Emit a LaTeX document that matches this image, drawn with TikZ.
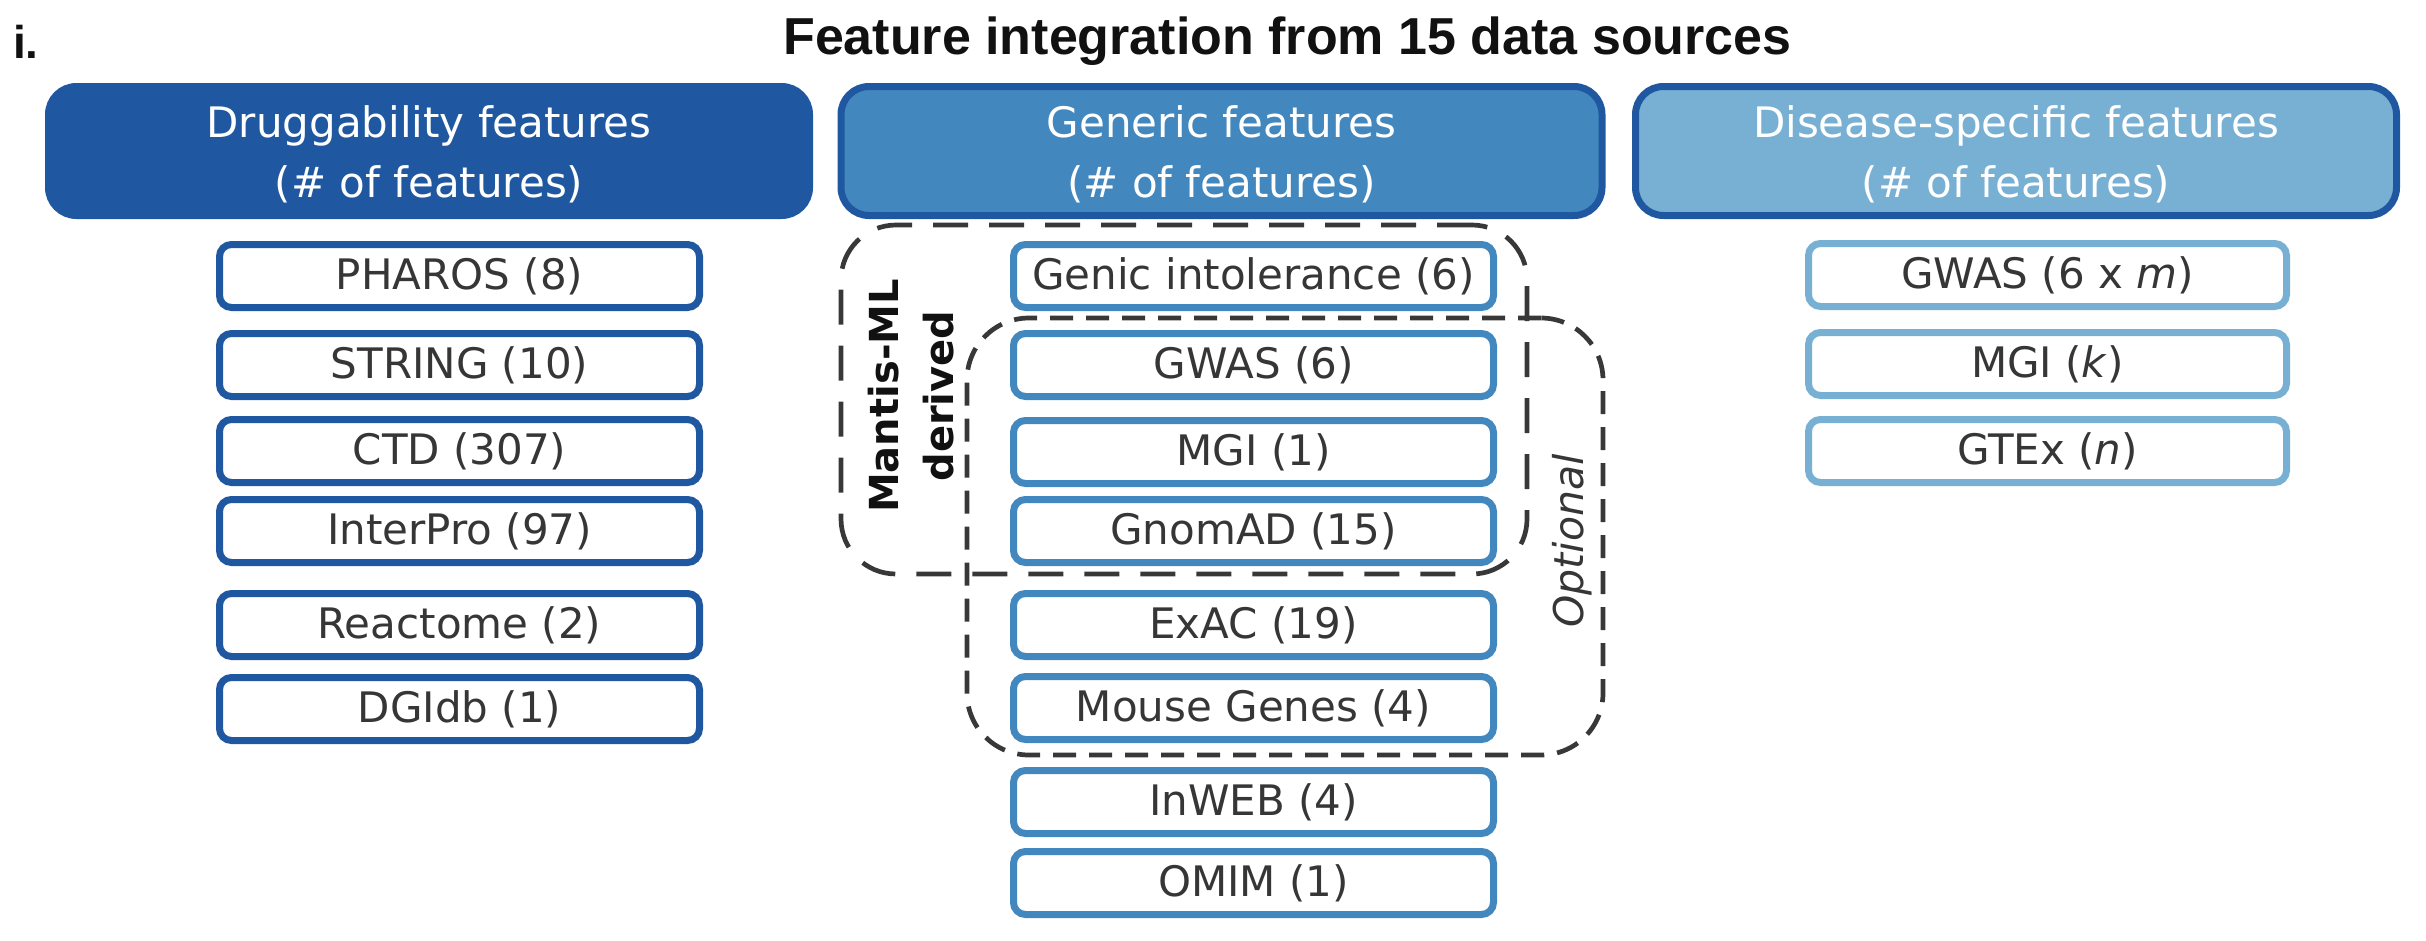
\documentclass[tikz,border=0pt]{standalone}
\usepackage{fontspec}
\setmainfont{DejaVu Sans}
\newfontfamily\titlefont{Liberation Sans}
\definecolor{drk}{RGB}{31,88,160}
\definecolor{med}{RGB}{66,135,190}
\definecolor{lgt}{RGB}{120,176,212}
\definecolor{txt}{RGB}{54,54,54}
\definecolor{dsh}{RGB}{56,56,56}
\definecolor{ttl}{RGB}{17,17,17}
\begin{document}
\begin{tikzpicture}[x=1pt,y=-1pt,
  hdr/.style={rounded corners=28pt, line width=7pt, draw=drk, minimum width=761pt,
    minimum height=129pt, inner sep=0pt},
  htxt/.style={text=white, align=center, inner sep=0pt, font=\fontsize{42}{60}\selectfont},
  item/.style={rounded corners=12pt, line width=7pt, fill=white, minimum width=480pt,
    minimum height=63pt, text=txt, inner sep=0pt, font=\fontsize{42}{50}\selectfont},
  litem/.style={item, draw=drk},
  mitem/.style={item, draw=med},
  ritem/.style={item, draw=lgt, minimum width=478pt},
  dashbox/.style={draw=dsh, line width=4.7pt, inner sep=0pt}
]
\useasboundingbox (0,0) rectangle (2426,940);

% title
\node[anchor=base west, inner sep=0pt, text=ttl, font=\titlefont\bfseries\fontsize{46}{50}\selectfont] (lab) at (13,58) {i.};
\node[anchor=base, inner sep=0pt, text=ttl, font=\titlefont\bfseries\fontsize{52}{60}\selectfont] (title) at (1287.5,54) {Feature integration from 15 data sources};

% headers
\node[hdr, fill=drk] (hdrug) at (429,151) {};
\node[hdr, fill=med] (hgen) at (1221.5,151) {};
\node[hdr, fill=lgt] (hdis) at (2016,151) {};
\node[htxt] (hdrugtxt) at ([yshift=-3pt]hdrug.center) {Druggability features\\(\# of features)};
\node[htxt] (hgentxt) at ([yshift=-3pt]hgen.center) {Generic features\\(\# of features)};
\node[htxt] (hdistxt) at ([yshift=-3pt]hdis.center) {Disease-specific features\\(\# of features)};

% left column
\node[litem] (pharos) at (459.5,276) {PHAROS (8)};
\node[litem] (string) at (459.5,365) {STRING (10)};
\node[litem] (ctd) at (459.5,451) {CTD (307)};
\node[litem] (interpro) at (459.5,531) {InterPro (97)};
\node[litem] (reactome) at (459.5,625) {Reactome (2)};
\node[litem] (dgidb) at (459.5,709) {DGIdb (1)};

% middle column
\node[mitem] (genic) at (1253.5,276) {Genic intolerance (6)};
\node[mitem] (gwas) at (1253.5,365) {GWAS (6)};
\node[mitem] (mgi) at (1253.5,452) {MGI (1)};
\node[mitem] (gnomad) at (1253.5,531) {GnomAD (15)};
\node[mitem] (exac) at (1253.5,625) {ExAC (19)};
\node[mitem] (mouse) at (1253.5,708) {Mouse Genes (4)};
\node[mitem] (inweb) at (1253.5,802) {InWEB (4)};
\node[mitem] (omim) at (1253.5,883) {OMIM (1)};

% right column
\node[ritem] (dgwas) at (2047.5,275) {GWAS (6 x \textit{m})};
\node[ritem] (dmgi) at (2047.5,364) {MGI (\textit{k})};
\node[ritem] (dgtex) at (2047.5,451) {GTEx (\textit{n})};

% dashed groups
\node[dashbox, rounded corners=55pt, dash pattern=on 35pt off 21pt,
  minimum width=686pt, minimum height=349pt] (mantis) at (1184,399.5) {};
\node[dashbox, rounded corners=62pt, dash pattern=on 23pt off 13pt,
  minimum width=636pt, minimum height=437pt] (optional) at (1285,536.5) {};

\node[rotate=90, align=center, inner sep=0pt, text=ttl,
  font=\bfseries\fontsize{40}{55}\selectfont] (mantislab) at (911,396) {Mantis-ML\\derived};
\node[rotate=90, anchor=base, inner sep=0pt, text=txt,
  font=\itshape\fontsize{41}{50}\selectfont] (optlab) at (1583,541) {Optional};
\end{tikzpicture}
\end{document}
